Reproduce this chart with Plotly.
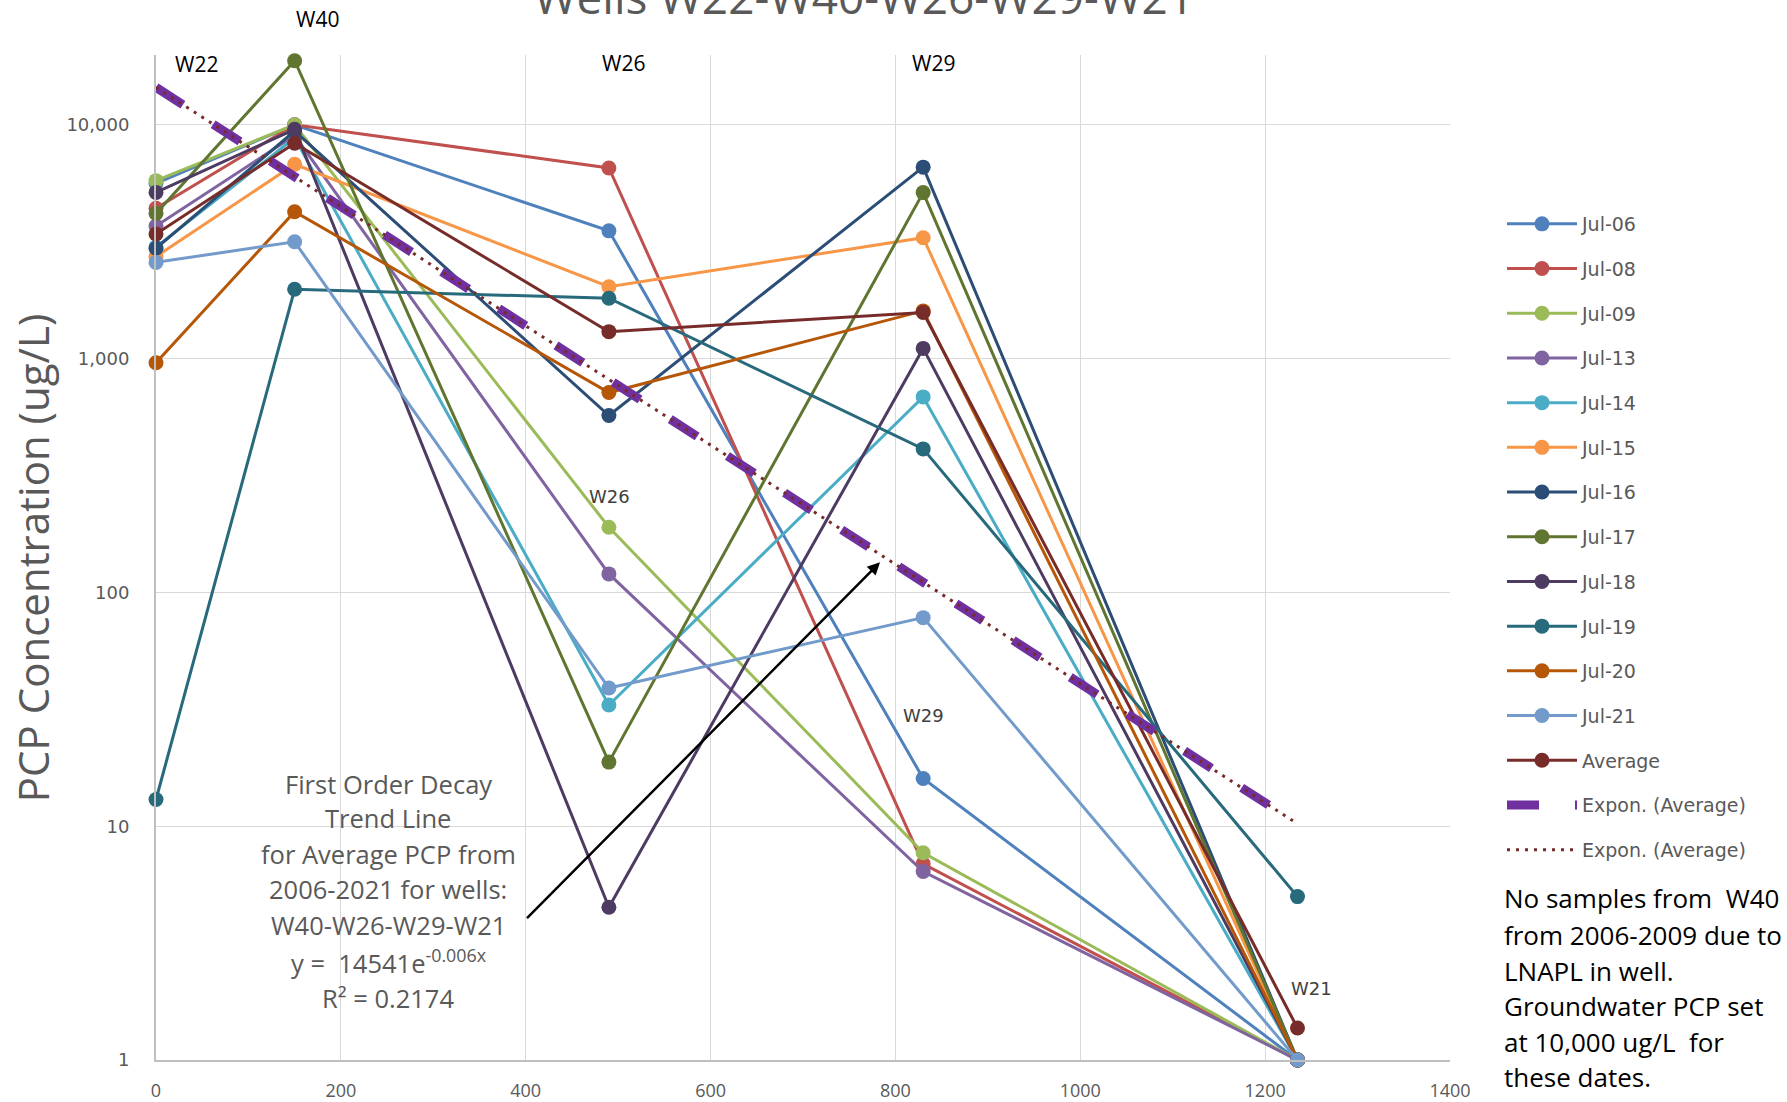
import numpy as np
import plotly.graph_objects as go

# Distance along the well transect (ft) and well names
distance = [0, 150, 490, 830, 1235]
wells = ["W22", "W40", "W26", "W29", "W21"]

# PCP concentration (ug/L) per sampling round
jul_06 = [5620, 10000, 3520, 16.0, 1]
jul_08 = [4400, 10000, 6540, 6.9, 1]
jul_09 = [5770, 10000, 190, 7.7, 1]
jul_13 = [3690, 9000, 120, 6.4, 1]
jul_14 = [3000, 8800, 33, 686, 1]
jul_15 = [2730, 6780, 2030, 3290, 1]
jul_16 = [2965, 9400, 571, 6590, 1]
jul_17 = [4180, 18800, 18.8, 5130, 1]
jul_18 = [5140, 9570, 4.5, 1106, 1]
jul_19 = [13, 1980, 1813, 411, 5.0]
jul_20 = [960, 4250, 716, 1600, 1]
jul_21 = [2580, 3160, 39, 78, 1]
average = [3410, 8340, 1304, 1574, 1.37]

series_names = ["Jul-06", "Jul-08", "Jul-09", "Jul-13", "Jul-14", "Jul-15",
                "Jul-16", "Jul-17", "Jul-18", "Jul-19", "Jul-20", "Jul-21", "Average"]
series_values = [jul_06, jul_08, jul_09, jul_13, jul_14, jul_15,
                 jul_16, jul_17, jul_18, jul_19, jul_20, jul_21, average]
series_colors = ["#4F81BD", "#C0504D", "#9BBB59", "#8064A2", "#4BACC6", "#F79646",
                 "#2C4D75", "#5F7530", "#4D3B62", "#276A7C", "#B65708", "#729ACA", "#772C2A"]

y_tickvals = [1, 10, 100, 1000, 10000]
y_ticktext = ["1", "10", "100", "1,000", "10,000"]

W, H = 1787, 1102
PL, PR, PT, PB = 156, 1450, 55, 1059.6  # plot area in pixels
Y_TOP = (PB - PT) / 233.7  # log10 of axis maximum

def paper(xp, yp):
    return (xp - PL) / (PR - PL), (PB - yp) / (PB - PT)

fig = go.Figure()

for i, (name, vals, col) in enumerate(zip(series_names, series_values, series_colors)):
    fig.add_trace(go.Scatter(
        x=distance, y=vals, name=name, mode="lines+markers",
        line=dict(color=col, width=3),
        marker=dict(color=col, size=15),
        legendgroup=f"g{i}", cliponaxis=False,
    ))

# Exponential (first order decay) trend fitted to the average concentrations
b, ln_a = np.polyfit(distance, np.log(average), 1)
tx = np.array([distance[0], distance[-1]])
ty = np.exp(ln_a) * np.exp(b * tx)

fig.add_trace(go.Scatter(
    x=tx, y=ty, name="Expon. (Average)", mode="lines",
    line=dict(color="#7030A0", width=9, dash="32px,36px"),
    legendgroup="t1",
))
fig.add_trace(go.Scatter(
    x=tx, y=ty, name="Expon. (Average)", mode="lines",
    line=dict(color="#772C2A", width=3, dash="3px,6px"),
    legendgroup="t2",
))

annotations = []

def label(text, xp, yp, size=20, color="black", family="Open Sans", xanchor="center"):
    x, y = paper(xp, yp)
    annotations.append(dict(
        text=text, x=x, y=y, xref="paper", yref="paper", showarrow=False,
        xanchor=xanchor, yanchor="middle",
        font=dict(family=family, size=size, color=color),
    ))

# well labels
label("W22", 196, 64, size=21)
label("W40", 317, 19, size=21)
label("W26", 623, 63, size=21)
label("W29", 933, 63, size=21)
label("W26", 609, 496, size=18, color="#404040", family="DejaVu Sans")
label("W29", 923, 715, size=18, color="#404040", family="DejaVu Sans")
label("W21", 1311, 988, size=18, color="#404040", family="DejaVu Sans")

# trend line description
trend_lines = ["First Order Decay", "Trend Line", "for Average PCP from",
               "2006-2021 for wells:", "W40-W26-W29-W21",
               "y =  14541e<sup>-0.006x</sup>", "R² = 0.2174"]
trend_y = [784, 818, 854, 889, 925, 961, 998]
for t, yp in zip(trend_lines, trend_y):
    label(t, 388, yp, size=25.5, color="#595959")

# note on W40
note_lines = ["No samples from  W40", "from 2006-2009 due to", "LNAPL in well.",
              "Groundwater PCP set", "at 10,000 ug/L  for", "these dates."]
note_y = [898, 935, 971, 1006, 1042, 1077]
for t, yp in zip(note_lines, note_y):
    label(t, 1502, yp, size=26, color="black", xanchor="left")

# arrow pointing at the trend line
hx, hy = paper(880, 562)
annotations.append(dict(
    x=hx, y=hy, xref="paper", yref="paper", ax=524 - 880, ay=921 - 562,
    axref="pixel", ayref="pixel", showarrow=True, arrowhead=2, arrowsize=1,
    arrowwidth=2.5, arrowcolor="black", text=" ",
))

# y-axis title
ax_x, ax_y = paper(32, 558)
annotations.append(dict(
    text="PCP Concentration (ug/L)", x=ax_x, y=ax_y, xref="paper", yref="paper",
    showarrow=False, textangle=-90, xanchor="center", yanchor="middle",
    font=dict(family="Open Sans", size=42, color="#595959"),
))

fig.update_layout(
    width=W, height=H,
    margin=dict(l=PL, r=W - PR, t=PT, b=H - PB, autoexpand=False),
    paper_bgcolor="white", plot_bgcolor="white",
    title=dict(text="Wells W22-W40-W26-W29-W21", x=864 / W, xref="container",
               y=1 - 14 / H, yref="container", xanchor="center", yanchor="bottom",
               font=dict(family="Open Sans", size=46, color="#595959")),
    xaxis=dict(range=[0, 1400], dtick=200, showgrid=True, gridcolor="#D9D9D9",
               gridwidth=1, zeroline=False, showline=True, linecolor="#BFBFBF",
               linewidth=2, ticks="", ticklabelstandoff=13,
               tickfont=dict(family="Open Sans", size=18, color="#595959")),
    yaxis=dict(type="log", range=[0, Y_TOP], tickvals=y_tickvals, ticktext=y_ticktext,
               showgrid=True, gridcolor="#D9D9D9", gridwidth=1, zeroline=False,
               showline=True, linecolor="#BFBFBF", linewidth=2, ticks="",
               ticklabelstandoff=21,
               tickfont=dict(family="DejaVu Sans", size=18, color="#595959")),
    legend=dict(x=1502 / W, y=1 - 205 / H, xref="container", yref="container",
                xanchor="left", yanchor="top", tracegroupgap=17, itemwidth=70,
                maxheight=800,
                font=dict(family="DejaVu Sans", size=19, color="#595959"),
                bgcolor="rgba(0,0,0,0)"),
    annotations=annotations,
    showlegend=True,
)

fig.write_html("out.html")
